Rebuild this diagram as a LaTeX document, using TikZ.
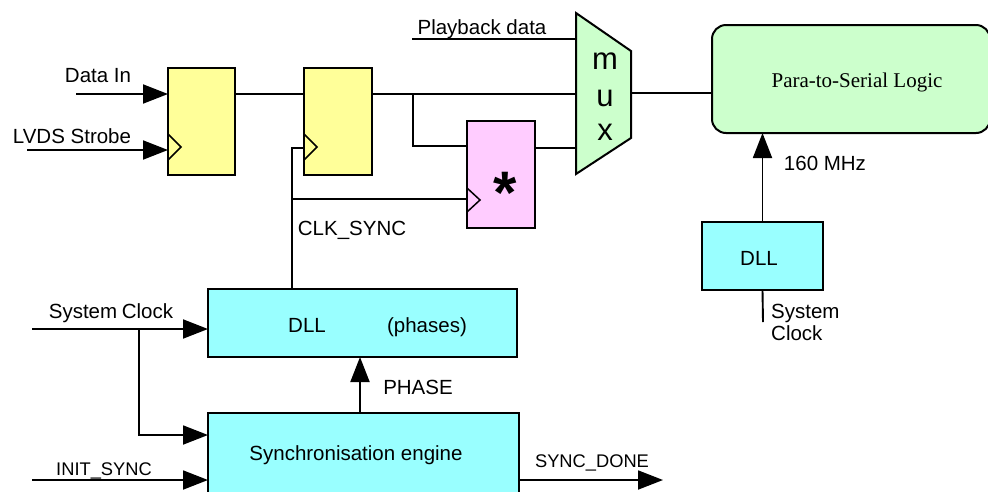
\documentclass[tikz,border=0pt]{standalone}
\usepackage{fontspec}
\setmainfont{Liberation Sans}
\newfontfamily\serifface{Liberation Serif}
\usetikzlibrary{arrows.meta,calc}
\definecolor{ffyellow}{HTML}{FFFF99}
\definecolor{regpink}{HTML}{FFCCFF}
\definecolor{muxgreen}{HTML}{CCFFCC}
\definecolor{dllcyan}{HTML}{99FFFF}
\begin{document}
\begin{tikzpicture}[x=1pt,y=-1pt,
  lbl/.style={font=\fontsize{20.5}{24}\selectfont, inner sep=0, anchor=base},
  smalllbl/.style={font=\fontsize{18.3}{22}\selectfont, inner sep=0, anchor=base},
  block/.style={draw=black, line width=2pt, inner sep=0, outer sep=0},
  wire/.style={line width=1.9pt},
  arr/.style={wire, -{Triangle[length=25pt,width=19pt]}},
  clk/.style={line width=1.5pt, line join=miter},
]
\useasboundingbox (0,0) rectangle (988,491);
\clip (0,0) rectangle (988,491);

% ---- registers ----
\node[block, fill=ffyellow, minimum width=67pt, minimum height=107pt] (ff1) at (201.5,121.5) {};
\node[block, fill=ffyellow, minimum width=68pt, minimum height=107pt] (ff2) at (338,121.5) {};
\node[block, fill=regpink, minimum width=68pt, minimum height=107pt] (reg) at (501,174.5) {};
\node[font=\bfseries\fontsize{60}{60}\selectfont, inner sep=0, anchor=base] (star) at (505,213) {*};

% ---- multiplexer ----
\node[inner sep=0, outer sep=0, minimum width=55pt, minimum height=161pt] (mux) at (603.5,93.5) {};
\draw[block, fill=muxgreen] (mux.north west) -- ($(mux.north east)+(0,38)$)
  -- ($(mux.south east)+(0,-36)$) -- (mux.south west) -- cycle;
\node[font=\fontsize{31}{31}\selectfont, inner sep=0, anchor=base] (mm) at (605,69) {m};
\node[font=\fontsize{31}{31}\selectfont, inner sep=0, anchor=base] (mu) at (605,106) {u};
\node[font=\fontsize{31}{31}\selectfont, inner sep=0, anchor=base] (mx) at (605,140) {x};

% ---- parallel to serial ----
\node[block, rounded corners=14pt, fill=muxgreen, minimum width=278pt, minimum height=108pt] (p2s) at (851,79) {};
\node[font=\serifface\fontsize{21}{24}\selectfont, inner sep=0, anchor=base] (p2stxt) at (857,87) {Para-to-Serial Logic};

% ---- DLLs and sync engine ----
\node[block, fill=dllcyan, minimum width=121pt, minimum height=68pt] (dll2) at (762.5,256) {};
\node[lbl] (dll2txt) at (759,265) {DLL};
\node[block, fill=dllcyan, minimum width=309pt, minimum height=68pt] (dll) at (362.5,323) {};
\node[lbl] (dlltxt) at (307,332) {DLL};
\node[lbl] (phtxt) at (427,332) {(phases)};
\node[block, fill=dllcyan, minimum width=311pt, minimum height=82pt] (sync) at (363.5,454) {};
\node[lbl] (synctxt) at (356,460) {Synchronisation engine};

% ---- clock marks ----
\coordinate (din) at (76,94);
\coordinate (lvds) at (27,150);
\draw[clk] ($(ff1.west |- lvds)+(0,-16)$) -- ++(13,13) -- ++(-13,13);
\draw[clk] ($(ff2.west |- lvds)+(0,-16)$) -- ++(13,13) -- ++(-13,13);
\coordinate (rclk) at (467,200);
\draw[clk] ($(reg.west |- rclk)+(0,-12)$) -- ++(13,12) -- ++(-13,12);

% ---- data path ----
\draw[arr] (din) -- (din -| ff1.west);
\node[lbl] (dintxt) at (98,82) {Data In};
\draw[arr] (lvds) -- (lvds -| ff1.west);
\node[lbl] (lvdstxt) at (72,143) {LVDS Strobe};
\draw[wire] (din -| ff1.east) -- (din -| ff2.west);
\draw[wire] (din -| ff2.east) -- (din -| mux.west);
\coordinate (br) at (413,94);
\coordinate (regin) at (467,146);
\draw[wire] (br) |- (regin -| reg.west);
\coordinate (regout) at (535,148);
\draw[wire] (regout -| reg.east) -- (regout -| mux.west);
\coordinate (pb) at (412,39);
\draw[wire] (pb) -- (pb -| mux.west);
\node[lbl] (pbtxt) at (482,34) {Playback data};
\coordinate (mout) at (631,93);
\draw[wire] (mout -| mux.east) -- (mout -| p2s.west);

% ---- sync clock ----
\coordinate (cs) at (292,148);
\draw[wire] (dll.north -| cs) -- (cs) -- (cs -| ff2.west);
\coordinate (csb) at (292,199);
\draw[wire] (csb) -- (csb -| reg.west);
\node[lbl] (cstxt) at (352,235) {CLK\_SYNC};

% ---- 160 MHz clock ----
\draw[arr] (dll2.north) -- (p2s.south -| dll2.north);
\node[lbl] (mhz) at (825,170) {160 MHz};
\coordinate (sc2) at (763,322);
\draw[wire] (dll2.south) -- (sc2);
\node[lbl, anchor=base west] (sc2a) at (771,318) {System};
\node[lbl, anchor=base west] (sc2b) at (771,340) {Clock};

% ---- system clock and control ----
\coordinate (sc) at (32,329);
\draw[arr] (sc) -- (sc -| dll.west);
\node[lbl] (sctxt) at (111,318) {System\kern-1pt\ Clock};
\coordinate (scb) at (139,329);
\coordinate (scs) at (139,435);
\draw[arr] (scb) -- (scs) -- (scs -| sync.west);
\draw[arr] (sync.north -| 360,0) -- (dll.south -| 360,0);
\node[lbl] (phasetxt) at (418,394) {PHASE};
\coordinate (init) at (32,480);
\draw[arr] (init) -- (init -| sync.west);
\node[smalllbl] (inittxt) at (104,475) {INIT\_SYNC};
\coordinate (done) at (663,480);
\draw[arr] (done -| sync.east) -- (done);
\node[smalllbl] (donetxt) at (592,467) {SYNC\_DONE};
\end{tikzpicture}
\end{document}
